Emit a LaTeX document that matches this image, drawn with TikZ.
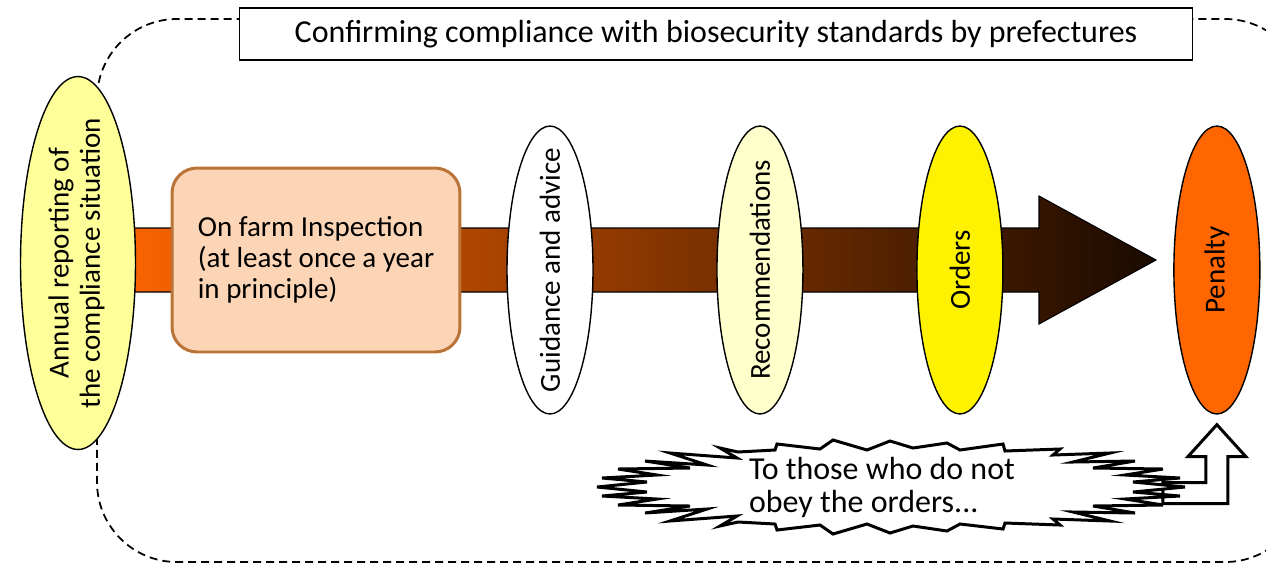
\documentclass[tikz,border=0pt]{standalone}
\usepackage{fontspec}
\setmainfont{Carlito}
\usetikzlibrary{positioning, shapes.geometric}

\definecolor{peach}{RGB}{251,213,181}
\definecolor{copper}{RGB}{185,115,55}
\definecolor{paleyellow}{RGB}{255,255,153}
\definecolor{cream}{RGB}{255,255,204}
\definecolor{fireorange}{RGB}{255,102,0}
\definecolor{rust}{RGB}{182,74,0}
\definecolor{darkbrown}{RGB}{26,10,0}

\newcommand{\vtext}[1]{\rotatebox{90}{\makebox[0pt]{#1}}}

\begin{document}
\begin{tikzpicture}[x=0.02cm, y=-0.02cm, node distance=4cm, on grid,
        font=\fontsize{16.5}{17.8}\selectfont,
        stage/.style={ellipse, draw, line width=0.8pt, minimum width=1.72cm, minimum height=5.76cm, inner sep=0pt},
        inspect/.style={rectangle, rounded corners=0.5cm, draw=copper, line width=1.7pt, fill=peach, minimum width=5.76cm, minimum height=3.68cm, align=left},
        titlebox/.style={draw, fill=white, line width=0.8pt, minimum width=19.06cm, minimum height=1.04cm, font=\fontsize{18.2}{20}\selectfont},
        burstline/.style={draw, fill=white, line width=1.7pt, line join=miter},
        bursttext/.style={align=left, font=\fontsize{18.2}{18.8}\selectfont},
        hollow/.style={draw, fill=white, line width=1.7pt, line join=miter},
        frame/.style={dashed, dash pattern=on 0.16cm off 0.1cm, line width=1pt}]
        \useasboundingbox (0,0) rectangle (1266,562);

        % dashed frame and main arrow
        \draw[frame, rounded corners=1.6cm] (97,19) rectangle (1305,562);
        \shade[draw=black, line width=0.6pt, left color=fireorange, middle color=rust, right color=darkbrown]
        (100,228) -- (1039,228) -- (1039,196) -- (1156,260) -- (1039,324) -- (1039,292) -- (100,292) -- cycle;

        \node[titlebox] (title) at (716,34) {Confirming compliance with biosecurity standards by prefectures};
        \node[stage, fill=paleyellow, minimum width=2.3cm, minimum height=7.46cm] (annual) at (78,263) {\vtext{\begin{tabular}{@{}c@{}}Annual reporting of\\the compliance situation\end{tabular}}};
        \node[inspect] (inspect) at (316,260) {On farm Inspection\\(at least once a year\\in principle)};

        \node[stage, fill=white] (guide) at (550,270) {\vtext{Guidance and advice}};
        \node[stage, fill=cream, right=4.2cm of guide] (recommend) {\vtext{Recommendations}};
        \node[stage, fill=yellow, right=4cm of recommend] (orders) {\vtext{Orders}};
        \node[stage, fill=fireorange, right=5.14cm of orders] (penalty) {\vtext{Penalty}};

        % bent arrow up to the penalty
        \coordinate (tip) at ([yshift=-0.2cm]penalty.south);
        \draw[hollow] (tip) -- ++(29,32) -- ++(-18,0) -- ++(0,47) -- ++(-65,0) -- ++(0,-21)
        -- ++(43,0) -- ++(0,-26) -- ++(-18,0) -- cycle;

        % explosion
        \draw[burstline] (597,487) -- (647,482) -- (602,478) -- (657,475) -- (618,469) -- (690,468)
        -- (645,461) -- (707,465) -- (670,453) -- (737,458) -- (720,448) -- (738,452) -- (775,450)
        -- (777,444) -- (820,449) -- (833,440) -- (867,450) -- (890,441) -- (913,448) -- (947,443)
        -- (960,450) -- (1003,444) -- (1005,451) -- (1060,449) -- (1053,455) -- (1110,453) -- (1073,462)
        -- (1135,461) -- (1093,468) -- (1163,469) -- (1125,475) -- (1180,478) -- (1133,482) -- (1185,487)
        -- (1133,492) -- (1180,496) -- (1125,499) -- (1163,505) -- (1093,506) -- (1135,513) -- (1073,512)
        -- (1110,521) -- (1053,519) -- (1060,525) -- (1005,523) -- (1003,529) -- (960,524) -- (947,531)
        -- (913,526) -- (890,533) -- (867,524) -- (833,534) -- (820,525) -- (777,530) -- (775,524)
        -- (738,522) -- (720,526) -- (737,516) -- (670,521) -- (707,509) -- (645,513) -- (690,506)
        -- (618,505) -- (657,499) -- (602,496) -- (647,492) -- cycle;
        \node[bursttext] (burst) at (882,487) {To those who do not\\obey the orders...};
    \end{tikzpicture}
\end{document}
